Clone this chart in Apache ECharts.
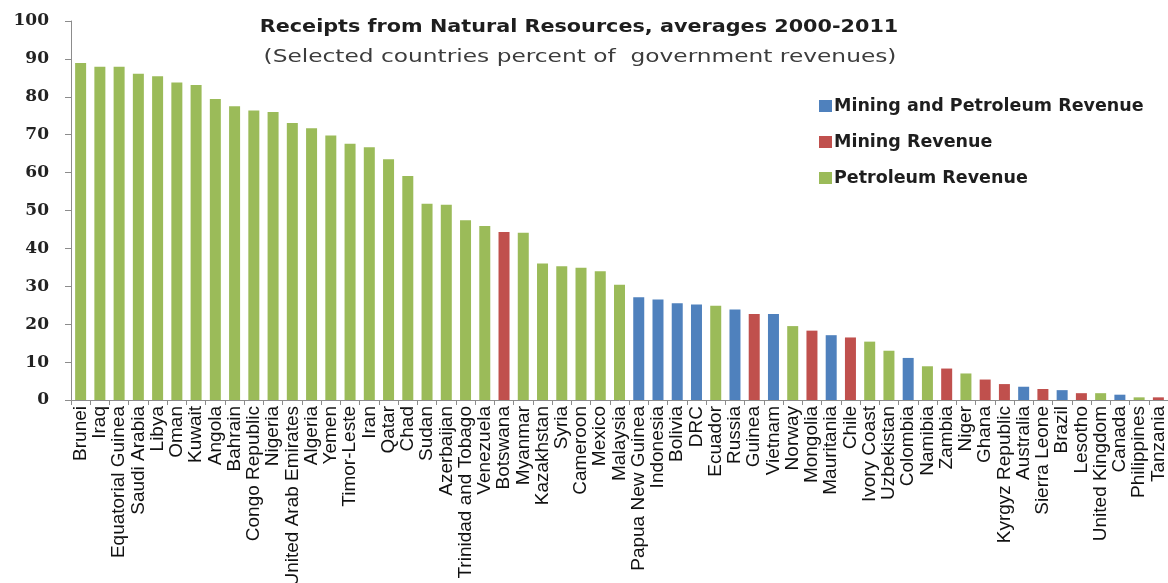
<!DOCTYPE html>
<html>
<head>
<meta charset="utf-8">
<script src="https://cdn.jsdelivr.net/npm/echarts@6/dist/echarts.min.js"></script>
<style>html,body{margin:0;padding:0;background:#fff}#c{width:1168px;height:583px}</style>
</head>
<body>
<div id="c"></div>
<script>
const countries = ["Brunei","Iraq","Equatorial Guinea","Saudi Arabia","Libya","Oman","Kuwait","Angola","Bahrain","Congo Republic","Nigeria","United Arab Emirates","Algeria","Yemen","Timor-Leste","Iran","Qatar","Chad","Sudan","Azerbaijan","Trinidad and Tobago","Venezuela","Botswana","Myanmar","Kazakhstan","Syria","Cameroon","Mexico","Malaysia","Papua New Guinea","Indonesia","Bolivia","DRC","Ecuador","Russia","Guinea","Vietnam","Norway","Mongolia","Mauritania","Chile","Ivory Coast","Uzbekistan","Colombia","Namibia","Zambia","Niger","Ghana","Kyrgyz Republic","Australia","Sierra Leone","Brazil","Lesotho","United Kingdom","Canada","Philippines","Tanzania"];
const values = [88.9,87.9,87.9,86.1,85.4,83.8,83.1,79.4,77.5,76.4,76.0,73.1,71.7,69.8,67.6,66.7,63.5,59.1,51.8,51.5,47.4,45.9,44.3,44.1,36.0,35.3,34.9,34.0,30.4,27.1,26.5,25.5,25.2,24.9,23.9,22.7,22.7,19.5,18.3,17.1,16.5,15.4,13.0,11.1,8.9,8.3,7.0,5.4,4.2,3.5,2.9,2.6,1.8,1.8,1.4,0.7,0.7];
// B = Mining and Petroleum, M = Mining, P = Petroleum
const types = ["P","P","P","P","P","P","P","P","P","P","P","P","P","P","P","P","P","P","P","P","P","P","M","P","P","P","P","P","P","B","B","B","B","P","B","M","B","P","M","B","M","P","P","B","P","M","P","M","M","B","M","B","M","P","B","P","M"];
const seriesNames = ["Mining and Petroleum Revenue","Mining Revenue","Petroleum Revenue"];
const seriesKeys = ["B","M","P"];
const seriesColors = ["#4F81BD","#C0504D","#9BBB59"];
const yTicks = [0,10,20,30,40,50,60,70,80,90,100];
const titleText = 'Receipts from Natural Resources, averages 2000-2011';
const subtitleText = '(Selected countries percent of  government revenues)';

const chart = echarts.init(document.getElementById('c'));
chart.setOption({
  animation: false,
  backgroundColor: '#ffffff',
  graphic: [
    {type: 'text', x: 579, y: 28, scaleX: 1.22, silent: true,
     style: {text: titleText, align: 'center', verticalAlign: 'middle',
             fontFamily: 'DejaVu Sans', fontWeight: 'bold', fontSize: 17, fill: '#1e1e1e'}},
    {type: 'text', x: 580, y: 58, scaleX: 1.37, silent: true,
     style: {text: subtitleText, align: 'center', verticalAlign: 'middle',
             fontFamily: 'DejaVu Sans', fontWeight: 'normal', fontSize: 17, fill: '#3c3c3c'}}
  ],
  legend: {
    orient: 'vertical', left: 814, top: 92, itemWidth: 13, itemHeight: 12, itemGap: 18,
    icon: 'rect',
    textStyle: {fontFamily: 'DejaVu Sans', fontWeight: 'bold', fontSize: 17.5, color: '#1e1e1e', lineHeight: 18, padding: [0,0,0,-3]},
    data: seriesNames
  },
  grid: {left: 71, right: 0, top: 21, bottom: 183, outerBoundsMode: 'none'},
  xAxis: {
    type: 'category', data: countries,
    axisLine: {lineStyle: {color: '#8c8c8c', width: 1}},
    axisTick: {show: true, length: 5, lineStyle: {color: '#8c8c8c'}},
    axisLabel: {interval: 0, rotate: 90, margin: 6, fontFamily: 'Liberation Sans', fontSize: 19, color: '#111'}
  },
  yAxis: {
    type: 'value', min: 0, max: 100, interval: 10,
    axisLine: {show: true, lineStyle: {color: '#8c8c8c', width: 1}},
    axisTick: {show: true, length: 6, lineStyle: {color: '#8c8c8c'}},
    splitLine: {show: false},
    axisLabel: {margin: 22, fontFamily: 'DejaVu Serif', fontWeight: 'bold', fontSize: 17, color: '#222',
      formatter: v => yTicks.includes(v) ? String(v) : ''}
  },
  series: seriesKeys.map((k, i) => ({
    name: seriesNames[i], type: 'bar', stack: 'all', barWidth: 11,
    itemStyle: {color: seriesColors[i]},
    data: values.map((v, j) => types[j] === k ? v : '-')
  }))
});
</script>
</body>
</html>
